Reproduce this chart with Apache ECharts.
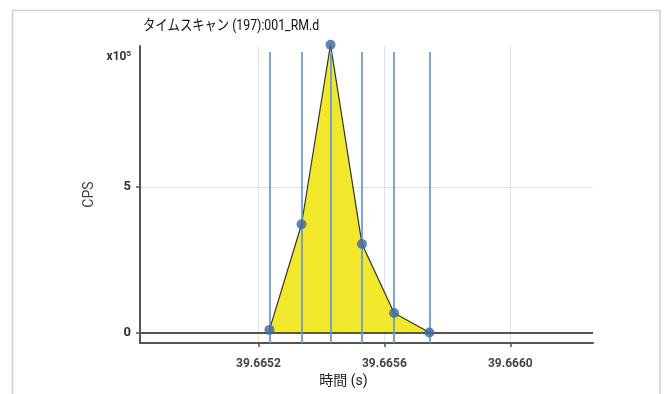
<!DOCTYPE html>
<html>
<head>
<meta charset="utf-8">
<script src="https://cdn.jsdelivr.net/npm/echarts@6/dist/echarts.min.js"></script>
<style>
html,body{margin:0;padding:0;background:#fff;}
#chart{width:665px;height:394px;}
</style>
</head>
<body>
<div id="chart"></div>
<script>
// Data (time in s, CPS in units of 1e5)
const titleText = 'タイムスキャン (197):001_RM.d';
const xAxisTitle = '時間 (s)';
const yAxisTitle = 'CPS';
const times = [39.665235, 39.665337, 39.665429, 39.665529, 39.665631, 39.665743];
const cps = [0.09, 3.72, 9.89, 3.04, 0.67, 0.0];
const xTicks = [39.6652, 39.6656, 39.6660];
const yTicks = [0, 5];
const xMin = 39.664824, xMax = 39.6662625;
const yMin = -0.36, yMax = 9.845;
const scanLineTop = 9.64;

const fam = "'Roboto', 'Noto Sans CJK JP', sans-serif";
const pts = times.map((t, i) => [t, cps[i]]);

const chart = echarts.init(document.getElementById('chart'), null, {renderer: 'canvas'});
chart.setOption({
  animation: false,
  graphic: [
    {type: 'rect', shape: {x: 12.5, y: 10.5, width: 647.5, height: 400},
     style: {fill: 'none', stroke: '#cfcfcf', lineWidth: 1.5}, z: 0, silent: true},
    {type: 'text', x: 143, y: 26, scaleX: 0.82, z: 10,
     style: {text: titleText, font: "normal 15px " + fam, fill: '#111', verticalAlign: 'middle', align: 'left'}},
    {type: 'text', right: 665 - 131, top: 50,
     style: {text: '{a|x10}{b|5}', rich: {
       a: {fontFamily: fam, fontSize: 12, fontWeight: 'bold', fill: '#333'},
       b: {fontFamily: fam, fontSize: 8, fontWeight: 'bold', fill: '#333', verticalAlign: 'top', padding: [0,0,6,0]}
     }}}
  ],
  grid: {left: 140, right: 72, top: 46, bottom: 51},
  xAxis: {
    type: 'value', min: xMin, max: xMax,
    name: xAxisTitle, nameLocation: 'middle', nameGap: 31,
    nameTextStyle: {fontFamily: fam, fontSize: 14, color: '#222', padding: [0, 46, 0, 0]},
    axisLine: {show: true, onZero: false, lineStyle: {color: '#555', width: 2}},
    axisTick: {show: true, customValues: xTicks, length: 4, lineStyle: {color: '#555', width: 1.5}},
    axisLabel: {customValues: xTicks, margin: 15, fontFamily: fam, fontSize: 12, fontWeight: 'bold', color: '#444',
      formatter: v => v.toFixed(4)},
    splitLine: {show: true, lineStyle: {color: '#e2e2e2', width: 1}}
  },
  yAxis: {
    type: 'value', min: yMin, max: yMax,
    name: yAxisTitle, nameLocation: 'middle', nameGap: 44, nameRotate: 90,
    nameTextStyle: {fontFamily: fam, fontSize: 14, color: '#444'},
    axisLine: {show: true, onZero: false, lineStyle: {color: '#555', width: 2}},
    axisTick: {show: true, customValues: yTicks, length: 4, lineStyle: {color: '#555', width: 1.5}},
    axisLabel: {customValues: yTicks, margin: 9, fontFamily: fam, fontSize: 13, fontWeight: 'bold', color: '#333'},
    splitLine: {show: true, lineStyle: {color: '#e2e2e2', width: 1}}
  },
  series: [
    {
      type: 'line', data: pts, z: 2, clip: false,
      showSymbol: false, symbol: 'none',
      lineStyle: {color: '#333', width: 1.2},
      areaStyle: {color: '#f1e82c', opacity: 1, origin: 0},
      markLine: {
        silent: true, symbol: ['none', 'none'], label: {show: false}, z: 5,
        data: [
          {yAxis: 0, lineStyle: {color: '#555', width: 2, type: 'solid'}},
          ...times.map(t => [
            {coord: [t, yMin], lineStyle: {color: '#6d9bd3', width: 1.8, type: 'solid'}},
            {coord: [t, scanLineTop]}
          ])
        ]
      }
    },
    {
      type: 'scatter', data: pts, z: 10, clip: false,
      symbol: 'circle', symbolSize: 10,
      itemStyle: {color: '#3b669e'}
    }
  ]
});
</script>
</body>
</html>
